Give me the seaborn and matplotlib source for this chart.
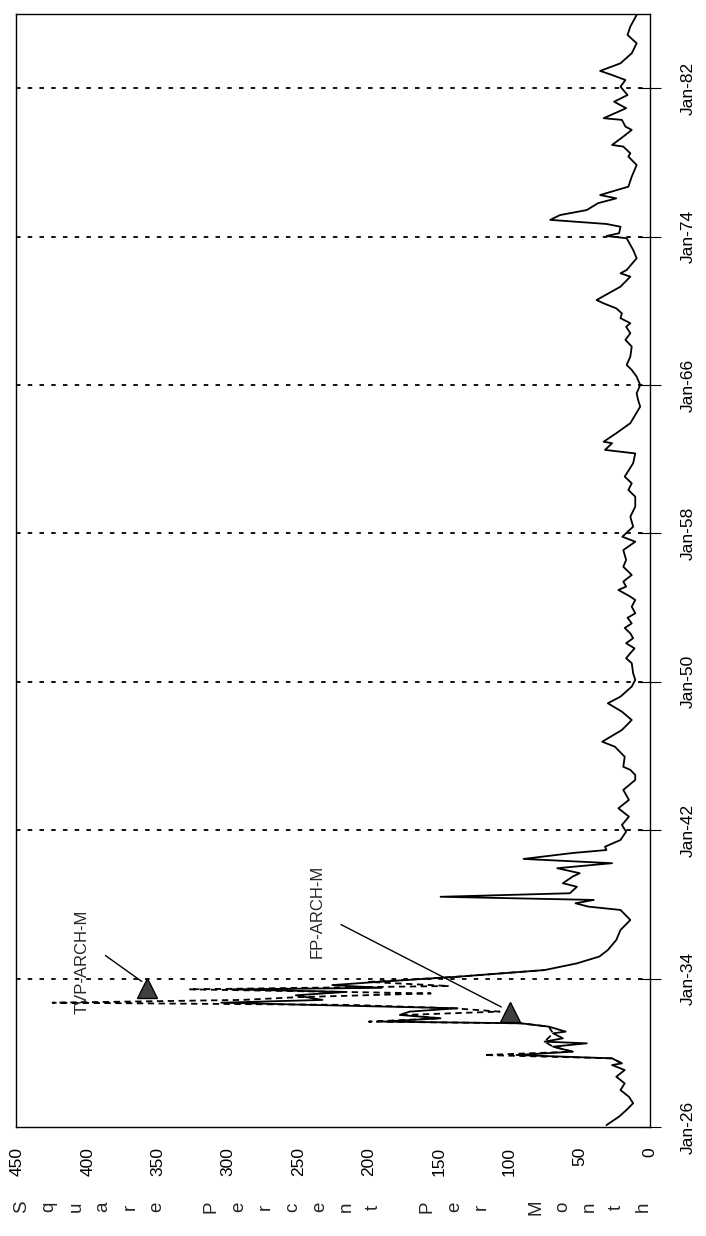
import matplotlib
matplotlib.use("Agg")
import matplotlib.pyplot as plt
import seaborn as sns
import pandas as pd

# monthly variance estimate (year, squared percent per month)
solid_t = [1926.10, 1926.56, 1926.90, 1927.28, 1927.63, 1927.99, 1928.35, 1928.71, 1929.07, 1929.34,
           1929.43, 1929.70, 1929.88, 1930.06, 1930.33, 1930.51, 1930.60, 1930.78, 1931.05, 1931.14,
           1931.41, 1931.59, 1931.68, 1931.86, 1932.04, 1932.22, 1932.40, 1932.58, 1932.70, 1932.85,
           1933.10, 1933.28, 1933.42, 1933.50, 1933.65, 1933.83, 1934.10, 1934.46, 1934.82, 1935.19,
           1935.54, 1936.08, 1936.62, 1937.16, 1937.70, 1937.88, 1938.06, 1938.24, 1938.41, 1938.60,
           1938.95, 1939.14, 1939.50, 1939.68, 1939.95, 1940.22, 1940.45, 1940.77, 1940.93, 1941.11,
           1941.47, 1941.92, 1942.28, 1942.73, 1943.18, 1943.63, 1944.17, 1944.71, 1944.98, 1945.25,
           1945.42, 1945.96, 1946.50, 1946.77, 1947.40, 1947.94, 1948.39, 1948.84, 1949.20, 1949.74,
           1950.10, 1950.46, 1951.00, 1951.27, 1951.54, 1951.80, 1952.08, 1952.35, 1952.61, 1952.90,
           1953.15, 1953.45, 1953.69, 1954.05, 1954.41, 1954.59, 1954.95, 1955.13, 1955.40, 1955.76,
           1956.20, 1956.57, 1957.10, 1957.55, 1957.82, 1958.36, 1958.90, 1959.44, 1959.98, 1960.34,
           1960.70, 1961.06, 1961.78, 1962.31, 1962.50, 1962.86, 1962.94, 1963.40, 1963.94, 1964.83,
           1965.20, 1965.55, 1966.00, 1966.45, 1966.81, 1967.08, 1967.53, 1968.07, 1968.43, 1968.79,
           1969.14, 1969.33, 1969.60, 1969.86, 1970.13, 1970.40, 1970.58, 1971.30, 1971.84, 1972.02,
           1972.20, 1972.83, 1973.28, 1973.91, 1974.03, 1974.18, 1974.53, 1974.68, 1974.90, 1975.16,
           1975.43, 1975.80, 1976.06, 1976.24, 1976.69, 1977.23, 1977.86, 1978.31, 1978.49, 1978.85,
           1978.94, 1979.39, 1979.75, 1979.93, 1980.29, 1980.38, 1980.92, 1981.27, 1981.63, 1982.08,
           1982.44, 1982.71, 1982.93, 1983.34, 1983.88, 1984.42, 1984.87, 1985.32, 1985.95]
solid_v = [31, 22, 17, 12, 15, 21, 18, 24, 18, 27,
           20, 27, 95, 55, 69, 45, 75, 62, 69, 60,
           72, 92, 190, 149, 178, 171, 137, 240, 305, 233,
           252, 216, 298, 191, 226, 192, 137, 75, 52, 36,
           30, 24, 21, 14, 21, 44, 53, 40, 149, 57,
           52, 62, 55, 50, 66, 27, 90, 55, 31, 32,
           21, 17, 20, 15, 22.5, 15, 19, 10.5, 10.5, 14,
           19, 18, 25, 34, 20, 13, 20, 30, 21, 13,
           10.5, 12, 13, 17, 14, 11, 17, 12, 14, 18,
           13, 16, 10.5, 13, 10.5, 14, 22.5, 17, 19, 13,
           19, 17, 19, 10.5, 19.7, 12, 14, 10.5, 10.5, 15.4,
           13, 18, 12, 10.5, 32, 27, 33, 24, 14, 7,
           8.5, 9.5, 7, 9.5, 13, 16.6, 14, 13, 17.5, 14,
           17, 14, 21, 20, 24, 33, 38, 21, 14, 21,
           16.6, 9.5, 12, 16.6, 31, 22, 21, 31, 71, 64,
           45, 37, 24, 35.5, 15.4, 13, 9.5, 15.4, 14, 19,
           27, 19, 13, 17.5, 20, 33, 17, 25.5, 16, 21,
           17.5, 27, 35.5, 21, 13, 9.5, 16, 14, 9.5]

# second estimate, only where it leaves the solid curve (1929-1934)
tvp_t = [1929.43, 1929.70, 1929.88, 1930.06, 1930.33, 1930.60, 1931.05, 1931.41, 1931.59, 1931.68,
         1931.86, 1932.04, 1932.22, 1932.40, 1932.58, 1932.70, 1932.85, 1933.00, 1933.20, 1933.42,
         1933.60, 1933.82, 1934.10, 1934.46]
tvp_v = [20, 27, 118, 55, 69, 75, 69, 72, 92, 200,
         149, 175, 107, 140, 213, 425, 290, 250, 156, 328,
         143, 200, 137, 75]

year_ticks = [1926, 1934, 1942, 1950, 1958, 1966, 1974, 1982]
year_labels = ["Jan-26", "Jan-34", "Jan-42", "Jan-50", "Jan-58", "Jan-66", "Jan-74", "Jan-82"]
value_ticks = [0, 50, 100, 150, 200, 250, 300, 350, 400, 450]
axis_title = "Square Percent Per Month"

# annotations: text position, line start/end, triangle marker
tvp_text = (404, 1934.9)
tvp_line = ((389, 1935.33), (360, 1933.76))
tvp_mark = (358, 1933.5)
fp_text = (237, 1937.64)
fp_line = ((221.6, 1936.98), (104, 1932.4))
fp_mark = (99.4, 1932.2)

sns.set_style("white")
plt.rcParams['font.family'] = ['Liberation Sans', 'DejaVu Sans']

fig = plt.figure(figsize=(7.06, 12.36), dpi=100)
ax = fig.add_axes([0.0227, 0.0882, 0.898, 0.9005])

solid_df = pd.DataFrame({"year": solid_t, "value": solid_v})
tvp_df = pd.DataFrame({"year": tvp_t, "value": tvp_v})

sns.lineplot(data=tvp_df, x="value", y="year", sort=False, estimator=None,
             color="black", lw=1.3, linestyle=(0, (3.5, 2.5)), ax=ax)
sns.lineplot(data=solid_df, x="value", y="year", sort=False, estimator=None,
             color="black", lw=1.3, ax=ax)

for yr in year_ticks[1:]:
    ax.axhline(yr, color="black", lw=1.3, linestyle=(0, (2.5, 4)), zorder=0)

ax.set_xlim(451, 0)
ax.set_ylim(1926, 1986)
ax.set_xlabel("")
ax.set_ylabel("")

ax.set_xticks(value_ticks)
ax.set_xticklabels([str(v) for v in value_ticks], rotation=90, fontsize=12.5)
ax.tick_params(axis="x", direction="inout", length=11, width=0.8, pad=9, colors="black")

ax.yaxis.tick_right()
ax.set_yticks(year_ticks)
ax.set_yticklabels(year_labels, rotation=90, va="center", fontsize=12.5)
ax.tick_params(axis="y", direction="inout", length=16, width=0.8, pad=14, colors="black")

for sp in ax.spines.values():
    sp.set_color("black")
    sp.set_linewidth(1.0)

# stacked axis title, one letter per slot
n = len(axis_title)
for i, ch in enumerate(axis_title):
    if ch == " ":
        continue
    xf = 0.0095 + i * (0.99 - 0.0095) / (n - 1)
    ax.text(xf, -0.072, ch, rotation=90, ha="center", va="center",
            fontsize=13.5, transform=ax.transAxes)

ax.text(*tvp_text, "TVP-ARCH-M", rotation=90, ha="center", va="center", fontsize=12)
ax.text(*fp_text, "FP-ARCH-M", rotation=90, ha="center", va="center", fontsize=12)
ax.annotate("", xy=tvp_line[1], xytext=tvp_line[0],
            arrowprops=dict(arrowstyle="-", color="black", lw=1.0))
ax.annotate("", xy=fp_line[1], xytext=fp_line[0],
            arrowprops=dict(arrowstyle="-", color="black", lw=1.0))
ax.plot([tvp_mark[0], fp_mark[0]], [tvp_mark[1], fp_mark[1]], linestyle="none",
        marker="^", markersize=14, color="#404040", markeredgecolor="black", zorder=5)

fig.savefig("out.png", dpi=100)
